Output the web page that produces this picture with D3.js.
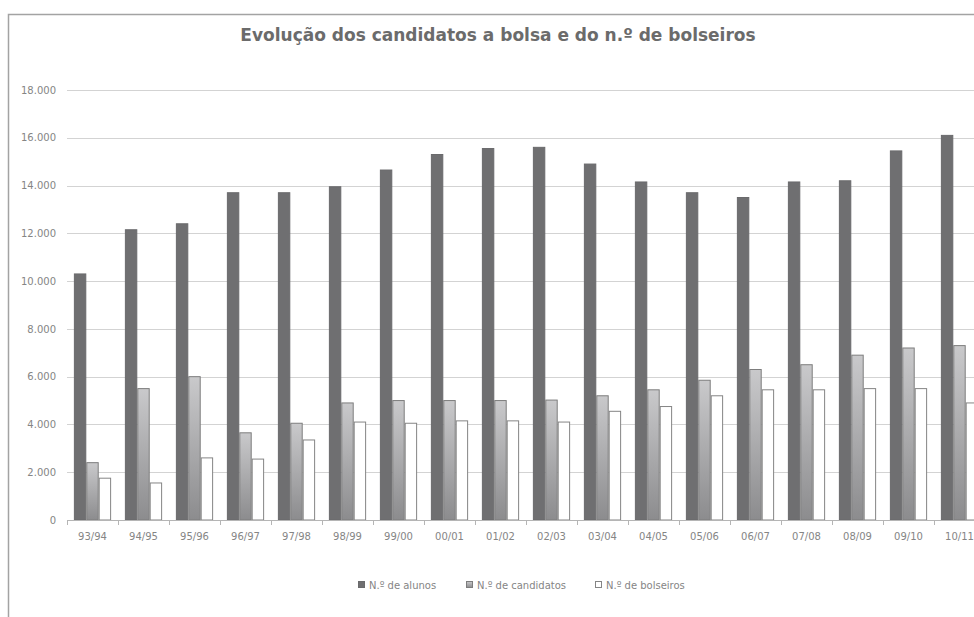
<!DOCTYPE html>
<html>
<head>
<meta charset="utf-8">
<script src="https://cdn.jsdelivr.net/npm/d3@7"></script>
<style>
  html, body { margin: 0; padding: 0; background: #fff; overflow: hidden; }
  svg { display: block; }
</style>
</head>
<body>
<svg id="chart" width="974" height="617"></svg>
<script>
// Academic years
const categories = ["93/94","94/95","95/96","96/97","97/98","98/99","99/00","00/01","01/02","02/03","03/04","04/05","05/06","06/07","07/08","08/09","09/10","10/11"];
// N.º de alunos
const alunos = [10300,12150,12400,13700,13700,13950,14650,15300,15550,15600,14900,14150,13700,13500,14150,14200,15450,16100];
// N.º de candidatos
const candidatos = [2400,5500,6000,3650,4050,4900,5000,5000,5000,5020,5200,5450,5850,6300,6500,6900,7200,7300];
// N.º de bolseiros
const bolseiros = [1750,1550,2600,2550,3350,4100,4050,4150,4150,4100,4550,4750,5200,5450,5450,5500,5500,4900];
const seriesNames = ["N.º de alunos","N.º de candidatos","N.º de bolseiros"];
const yTicks = [0,2000,4000,6000,8000,10000,12000,14000,16000,18000];
const titleText = "Evolução dos candidatos a bolsa e do n.º de bolseiros";

const svg = d3.select("#chart");
const font = "'DejaVu Sans', Verdana, sans-serif";

// gradient for the candidates bars
const defs = svg.append("defs");
const grad = defs.append("linearGradient").attr("id","gCand")
  .attr("x1",0).attr("y1",0).attr("x2",0).attr("y2",1);
grad.append("stop").attr("offset","0%").attr("stop-color","#c9c9cb");
grad.append("stop").attr("offset","100%").attr("stop-color","#8c8c8e");

// outer frame (left and top edges)
svg.append("path")
  .attr("d","M8.5,617 L8.5,14.5 L974,14.5")
  .attr("fill","none").attr("stroke","#a3a3a3").attr("stroke-width",1.5);

// title
svg.append("text")
  .attr("x",498).attr("y",41)
  .attr("text-anchor","middle")
  .attr("font-family",font).attr("font-weight","bold")
  .attr("font-size",17).attr("fill","#6b6b6b")
  .text(titleText);

const plot = {left:67, right:985, top:90, bottom:520};

const x0 = d3.scaleBand().domain(categories).range([plot.left, plot.right]).paddingInner(0).paddingOuter(0);
const inner = 0.27;
const x1 = d3.scaleBand().domain(seriesNames)
  .range([x0.bandwidth()*inner/2*1.0, x0.bandwidth()*(1-inner/2)]).padding(0);
const y = d3.scaleLinear().domain([0,18000]).range([plot.bottom, plot.top]);

// gridlines
svg.append("g").selectAll("line").data(yTicks.filter(d=>d>0)).join("line")
  .attr("x1",plot.left).attr("x2",plot.right)
  .attr("y1",d=>Math.round(y(d))+0.5).attr("y2",d=>Math.round(y(d))+0.5)
  .attr("stroke","#d3d3d3").attr("stroke-width",1);

// y axis labels
const fmt = d3.formatLocale({decimal:",", thousands:".", grouping:[3], currency:["","€"]}).format(",d");
const yAxis = d3.axisLeft(y).tickValues(yTicks).tickFormat(fmt).tickSize(0).tickPadding(0);
const gy = svg.append("g").attr("transform",`translate(56,0)`).call(yAxis);
gy.select(".domain").remove();
gy.selectAll("text").attr("font-family",font).attr("font-size",10).attr("fill","#858585");

// bars
const series = [
  {name:seriesNames[0], values:alunos, fill:"#6f6f71", stroke:"#6a6a6c"},
  {name:seriesNames[1], values:candidatos, fill:"url(#gCand)", stroke:"#7d7d7d"},
  {name:seriesNames[2], values:bolseiros, fill:"#ffffff", stroke:"#858585"}
];
const gBars = svg.append("g");
series.forEach(s => {
  gBars.append("g").selectAll("rect").data(categories).join("rect")
    .attr("x",(c)=>x0(c)+x1(s.name)+0.5)
    .attr("width",x1.bandwidth()-1)
    .attr("y",(c,i)=>y(s.values[i]))
    .attr("height",(c,i)=>y(0)-y(s.values[i]))
    .attr("fill",s.fill).attr("stroke",s.stroke).attr("stroke-width",1);
});

// x axis
const xAxis = d3.axisBottom(x0).tickSize(0).tickPadding(13);
const gx = svg.append("g").attr("transform",`translate(0,${plot.bottom})`).call(xAxis);
gx.select(".domain").remove();
gx.selectAll("text").attr("font-family",font).attr("font-size",10).attr("fill","#858585");
svg.append("line").attr("x1",plot.left).attr("x2",plot.right)
  .attr("y1",plot.bottom+0.5).attr("y2",plot.bottom+0.5)
  .attr("stroke","#b5b5b5");
svg.append("g").selectAll("line").data(categories.concat(["end"])).join("line")
  .attr("x1",(c,i)=>Math.round(plot.left + i*x0.bandwidth())+0.5)
  .attr("x2",(c,i)=>Math.round(plot.left + i*x0.bandwidth())+0.5)
  .attr("y1",plot.bottom).attr("y2",plot.bottom+5)
  .attr("stroke","#b5b5b5");

// legend
const legendItems = [
  {name:seriesNames[0], x:358, fill:"#6f6f71", stroke:"#6a6a6c"},
  {name:seriesNames[1], x:466, fill:"url(#gCand)", stroke:"#7d7d7d"},
  {name:seriesNames[2], x:595, fill:"#ffffff", stroke:"#858585"}
];
const lg = svg.append("g");
legendItems.forEach(it => {
  lg.append("rect").attr("x",it.x+0.5).attr("y",581.5).attr("width",6).attr("height",6)
    .attr("fill",it.fill).attr("stroke",it.stroke);
  lg.append("text").attr("x",it.x+11).attr("y",588.5)
    .attr("font-family",font).attr("font-size",10).attr("fill","#858585")
    .text(it.name);
});
</script>
</body>
</html>
